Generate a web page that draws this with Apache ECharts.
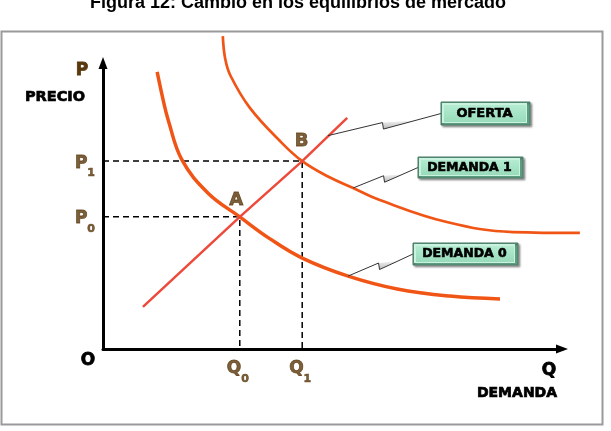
<!DOCTYPE html>
<html><head><meta charset="utf-8">
<script src="https://cdn.jsdelivr.net/npm/echarts@6/dist/echarts.min.js"></script>
<style>html,body{margin:0;padding:0;background:#fff}#c{width:611px;height:431px}</style>
</head><body><div id="c"></div><script>
// ---- data ----
const titleText = 'Figura 12: Cambio en los equilibrios de mercado';
const supplyQ = [8.7, 29.8, 43.4, 53.2];
const supplyP = [14.7, 46.2, 65.7, 80.8];
const demand0Q = [11.8, 13.1, 14.2, 17.2, 22.9, 29.8, 36.4, 43.4, 53.4, 64.1, 75.6, 86.5];
const demand0P = [96.9, 87.1, 80.1, 66.1, 54.5, 46.2, 38.5, 31.8, 25.5, 21.0, 18.5, 17.5];
const demand1Q = [26.1, 26.6, 27.7, 32.0, 39.0, 43.4, 48.8, 54.5, 60.3, 74.9, 89.3, 103.9];
const demand1P = [109.4, 101.7, 95.8, 84.3, 72.0, 65.7, 60.5, 56.3, 52.1, 44.4, 40.9, 40.6];
const equilibriumNames = ['A', 'B'];
const equilibriumQ = [29.8, 43.4];
const equilibriumP = [46.2, 65.7];
const priceTickBase = ['P', 'P'];
const priceTickSub = ['0', '1'];
const quantityTickBase = ['Q', 'Q'];
const quantityTickSub = ['0', '1'];
const axisNameY = ['P', 'PRECIO'];
const axisNameX = ['Q', 'DEMANDA'];
const originLabel = 'O';
const calloutNames = ['OFERTA', 'DEMANDA 1', 'DEMANDA 0'];
const calloutAnchorQ = [49.0, 54.5, 53.4];
const calloutAnchorP = [74.6, 56.3, 25.5];

// ---- layout / style ----
const BROWN = '#5a380d';
const FONT = 'DejaVu Sans';
const boxLayout = [
  {x: 441, y: 102, w: 89, h: 23, fs: 13},
  {x: 418, y: 157, w: 105, h: 21, fs: 12.5},
  {x: 413, y: 243, w: 105, h: 22, fs: 12.5}
];
const eqLabelPos = [[-3.5, -17], [-0.5, -20]];
// plot area: x 0..100 spans 103..562 px, y 0..100 spans 349..63 px
const PLOT = {left: 103, top: 63, width: 459, height: 286};
const X_EXTRA = 1.1; // data grid extends further right so that curves past the arrow are kept

const zip = (a, b) => a.map((v, i) => [v, b[i]]);
const chart = echarts.init(document.getElementById('c'), null, {renderer: 'canvas'});

const hiddenAxis = {
  type: 'value', min: 0, show: false,
  splitLine: {show: false}, axisTick: {show: false}, axisLabel: {show: false}, axisLine: {show: false}
};
const shownAxis = {
  type: 'value', min: 0, max: 100,
  splitLine: {show: false}, axisTick: {show: false}, axisLabel: {show: false},
  axisLine: {show: true, symbol: ['none', 'triangle'], symbolSize: [9, 12],
    lineStyle: {color: '#000', width: 3}}
};
const subRich = {
  b: {fontFamily: FONT, fontWeight: 'bold', fontSize: 17, color: BROWN, lineHeight: 20,
      textBorderColor: BROWN, textBorderWidth: 0.8},
  s: {fontFamily: FONT, fontWeight: 'bold', fontSize: 11, color: BROWN, lineHeight: 11,
      padding: [15, 0, 0, 0], verticalAlign: 'top', textBorderColor: BROWN, textBorderWidth: 0.6}
};

const series = [];
equilibriumQ.forEach((q, i) => {
  series.push({
    type: 'line', symbol: 'none', silent: true, z: 1,
    data: [[0, equilibriumP[i]], [q, equilibriumP[i]], [q, 0]],
    lineStyle: {color: '#000', width: 1.5, type: [6, 4]}
  });
});
series.push({
  name: 'Demanda 0', type: 'line', symbol: 'none', smooth: 0.4, clip: false, z: 3,
  data: zip(demand0Q, demand0P), lineStyle: {color: '#f05516', width: 3.5}
});
series.push({
  name: 'Demanda 1', type: 'line', symbol: 'none', smooth: 0.4, clip: false, z: 3,
  data: zip(demand1Q, demand1P), lineStyle: {color: '#f05516', width: 2.7}
});
series.push({
  name: 'Oferta', type: 'line', symbol: 'none', clip: false, z: 4,
  data: zip(supplyQ, supplyP), lineStyle: {color: '#ee4a3c', width: 2.5}
});
series.push({
  type: 'scatter', symbolSize: 0, silent: true, z: 5,
  data: equilibriumQ.map((q, i) => ({
    value: [q, equilibriumP[i]], name: equilibriumNames[i],
    label: {position: eqLabelPos[i]}
  })),
  label: {show: true, formatter: '{b}', align: 'center', verticalAlign: 'middle',
    fontFamily: FONT, fontWeight: 'bold', fontSize: 18, color: BROWN,
    textBorderColor: BROWN, textBorderWidth: 0.8}
});
series.push({
  type: 'scatter', symbolSize: 0, silent: true, z: 5,
  data: equilibriumP.map((p, i) => ({value: [0, p], name: i})),
  label: {show: true, position: [-8, 2], align: 'right', verticalAlign: 'middle',
    formatter: (d) => '{b|' + priceTickBase[d.dataIndex] + '}{s|' + priceTickSub[d.dataIndex] + '}',
    rich: subRich}
});
series.push({
  type: 'scatter', symbolSize: 0, silent: true, z: 5,
  data: equilibriumQ.map((q, i) => ({value: [q, 0], name: i})),
  label: {show: true, position: [-2, 20], align: 'center', verticalAlign: 'middle',
    formatter: (d) => '{b|' + quantityTickBase[d.dataIndex] + '}{s|' + quantityTickSub[d.dataIndex] + '}',
    rich: subRich}
});
series.forEach(s => { s.xAxisIndex = 0; s.yAxisIndex = 0; });

chart.setOption({
  animation: false,
  backgroundColor: '#fff',
  grid: [
    {left: PLOT.left, top: PLOT.top, width: PLOT.width * X_EXTRA, height: PLOT.height},
    {left: PLOT.left, top: PLOT.top, width: PLOT.width, height: PLOT.height}
  ],
  xAxis: [
    Object.assign({}, hiddenAxis, {gridIndex: 0, max: 100 * X_EXTRA}),
    Object.assign({}, shownAxis, {gridIndex: 1})
  ],
  yAxis: [
    Object.assign({}, hiddenAxis, {gridIndex: 0, max: 100}),
    Object.assign({}, shownAxis, {gridIndex: 1})
  ],
  series: series
});

function txt(text, x, y, fs, color, family, stroke) {
  return {type: 'text', x: x, y: y, silent: true, z: 10,
    style: {text: text, fontFamily: family || FONT, fontWeight: 'bold', fontSize: fs,
      fill: color, align: 'center', verticalAlign: 'middle',
      stroke: stroke ? color : null, lineWidth: stroke || 0}};
}

const graphics = [];
graphics.push({type: 'rect', z: -1, silent: true,
  shape: {x: 1.5, y: 31.5, width: 601, height: 393},
  style: {fill: 'none', stroke: '#9a9a9a', lineWidth: 2}});
graphics.push(txt(titleText, 298, 3, 18, '#000', 'Liberation Sans'));
graphics.push(txt(axisNameY[0], 82, 71, 17, BROWN, null, 0.8));
graphics.push(txt(axisNameY[1], 55, 97, 14.5, '#000', null, 0.7));
graphics.push(txt(originLabel, 88, 361, 17, '#000', null, 0.8));
graphics.push(txt(axisNameX[0], 549, 371, 17, '#000', null, 0.8));
graphics.push(txt(axisNameX[1], 517, 393, 14, '#000', null, 0.7));

calloutNames.forEach((name, i) => {
  const b = boxLayout[i];
  const s = chart.convertToPixel({gridIndex: 0}, [calloutAnchorQ[i], calloutAnchorP[i]]);
  const e = [b.x, b.y + b.h / 2];
  const m = [(s[0] + e[0]) / 2, (s[1] + e[1]) / 2];
  const k1 = [m[0] - 2, m[1] - 2];
  const k2 = [m[0] - 1, m[1] + 4.5];
  const q = [k2[0] + 0.55 * (e[0] - k2[0]), k2[1] + 0.55 * (e[1] - k2[1])];
  graphics.push({type: 'polygon', silent: true, z: 6,
    shape: {points: [k1, k2, q]},
    style: {fill: new echarts.graphic.LinearGradient(0, 0, 0, 1, [
      {offset: 0, color: '#f4f4f4'}, {offset: 1, color: '#b8b8b8'}]), stroke: 'none'}});
  graphics.push({type: 'polyline', silent: true, z: 7,
    shape: {points: [s, k1, k2, e]},
    style: {stroke: '#333', lineWidth: 1, fill: 'none'}});
  graphics.push({type: 'rect', silent: true, z: 8,
    shape: {x: b.x, y: b.y, width: b.w, height: b.h},
    style: {fill: '#5e9c82', stroke: '#4a7a66', lineWidth: 1,
      shadowColor: 'rgba(0,0,0,0.35)', shadowBlur: 2, shadowOffsetX: 1.5, shadowOffsetY: 1.5}});
  graphics.push({type: 'rect', silent: true, z: 8,
    shape: {x: b.x + 1, y: b.y + 1, width: b.w - 4, height: b.h - 3},
    style: {fill: '#c9f3df', stroke: 'none'}});
  graphics.push({type: 'rect', silent: true, z: 8,
    shape: {x: b.x + 3, y: b.y + 3, width: b.w - 7, height: b.h - 6},
    style: {fill: new echarts.graphic.LinearGradient(0, 0, 0, 1, [
      {offset: 0, color: '#b4ecd1'}, {offset: 1, color: '#98dbbb'}]), stroke: 'none'}});
  graphics.push(txt(name, b.x + b.w / 2 - 1, b.y + b.h / 2, b.fs, '#000', null, 0.6));
});

chart.setOption({graphic: graphics});
</script></body></html>
